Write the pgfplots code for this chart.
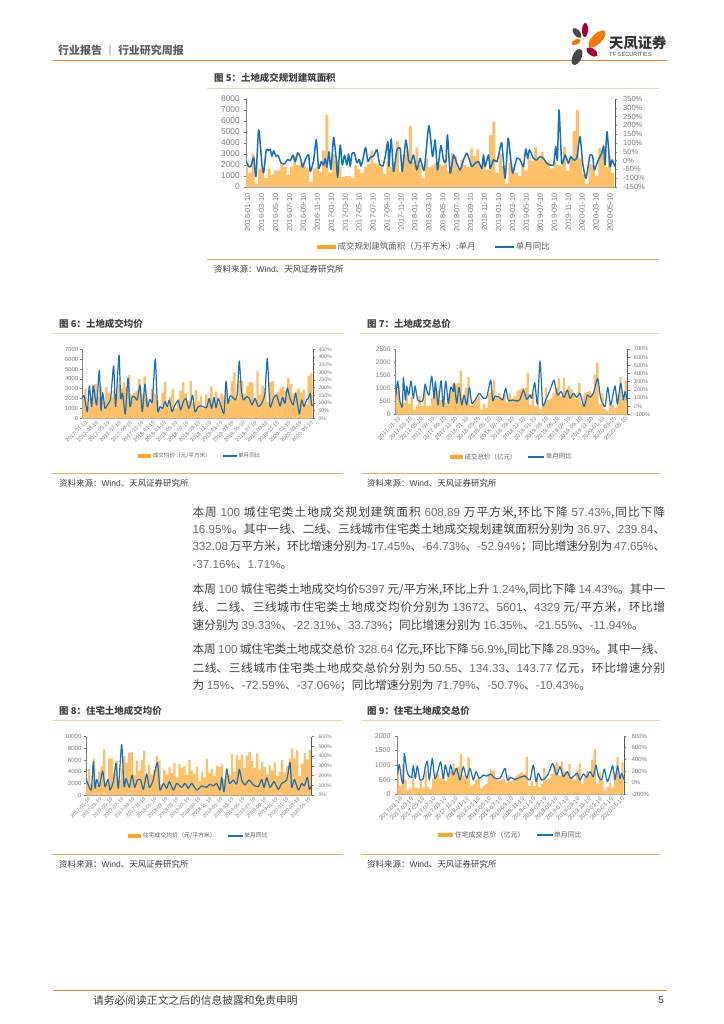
\documentclass[border=0pt]{standalone}
\usepackage{fontspec}
\usepackage{pgfplots}
\usepackage{pgfplotstable}
\pgfplotsset{compat=1.18}
\setmainfont{Noto Sans CJK SC}
\newfontfamily\lib{Liberation Sans}
\XeTeXlinebreaklocale "zh"
\XeTeXlinebreakskip=0pt plus 1.2pt minus 0.3pt

\definecolor{barcol}{HTML}{FFC06A}
\definecolor{keycol}{HTML}{FFA51F}
\definecolor{linecol}{HTML}{1470BC}
\definecolor{txt}{HTML}{404040}
\definecolor{numgray}{HTML}{6E6E6E}
\definecolor{tickgray}{HTML}{7A7A7A}
\definecolor{ruleA}{HTML}{FFCFA3}
\definecolor{ruleB}{HTML}{F8A25A}
\definecolor{headrule}{HTML}{F0882A}

\newcommand{\fsz}[1]{\fontsize{#1}{#1}\selectfont}
\newcommand{\g}[1]{{\color{numgray}\lib #1}}

% bar heights, left axis, about one bar in two of the original weekly series
\pgfplotstableread[row sep=\\,header=false]{
2100\\1300\\3000\\300\\1700\\1600\\800\\1700\\1100\\1500\\
1500\\2200\\1800\\1100\\1800\\2800\\2000\\2200\\1900\\1700\\
500\\1700\\1800\\1400\\3300\\6550\\1300\\3000\\2400\\1800\\
900\\1000\\1000\\800\\2000\\1600\\1300\\1800\\2100\\3300\\
2200\\2100\\1800\\1200\\2400\\1800\\2000\\4150\\1400\\2900\\
3400\\5550\\2300\\3600\\2000\\800\\2600\\1800\\2000\\2200\\
2100\\1900\\2500\\1500\\3100\\2800\\1700\\2500\\2000\\1800\\
3450\\2800\\3400\\1800\\2200\\1600\\4750\\5950\\1300\\3000\\
1900\\300\\2200\\1800\\1300\\1000\\2000\\1500\\2700\\2400\\
3600\\2600\\3200\\2300\\2300\\1700\\2400\\2000\\1900\\3650\\
1500\\2600\\5100\\7000\\2600\\1200\\300\\2100\\2000\\1000\\
3550\\3400\\1800\\2800\\1300\\
}\barsV
\pgfplotstableread[row sep=\\,header=false]{
2000\\3000\\1200\\2100\\3400\\3500\\2200\\3300\\1700\\3200\\
2600\\2100\\2800\\2400\\3500\\3000\\3700\\3200\\4400\\2400\\
2600\\2800\\4000\\2500\\4250\\2100\\1400\\3000\\2500\\1900\\
1000\\2600\\3700\\1300\\2200\\3000\\1000\\2000\\2800\\3700\\
2500\\1800\\3800\\1600\\2900\\1700\\2300\\1000\\2400\\2000\\
3200\\1800\\2700\\1600\\2500\\2200\\2900\\1900\\3800\\4650\\
2100\\3900\\3800\\2500\\3300\\3700\\3650\\1900\\4750\\2400\\
3300\\3100\\1700\\3650\\3800\\2300\\2700\\3000\\3200\\2800\\
4100\\3500\\2500\\2700\\3000\\2600\\2900\\1400\\4300\\4550\\
}\barsVI
\pgfplotstableread[row sep=\\,header=false]{
900\\1100\\300\\450\\1100\\400\\650\\180\\320\\700\\
330\\1000\\300\\320\\650\\950\\900\\550\\700\\450\\
800\\900\\1200\\1150\\1200\\1660\\600\\1000\\1430\\350\\
450\\600\\700\\200\\400\\250\\800\\900\\1300\\700\\
800\\650\\750\\500\\800\\600\\700\\900\\950\\1000\\
1000\\1590\\350\\800\\300\\500\\200\\400\\1020\\550\\
600\\800\\1000\\1390\\700\\1400\\900\\1100\\950\\800\\
600\\1200\\400\\800\\850\\900\\800\\1520\\1980\\400\\
800\\200\\130\\450\\350\\250\\750\\1430\\600\\1280\\
}\barsVII
\pgfplotstableread[row sep=\\,header=false]{
2100\\4500\\2000\\6300\\1800\\4000\\5000\\7800\\2000\\6300\\
6300\\3800\\5800\\2700\\4600\\6700\\5500\\7200\\7400\\3500\\
5900\\4200\\6000\\7600\\3200\\5200\\3500\\4300\\6700\\5900\\
1800\\4300\\3500\\4800\\3800\\5500\\3000\\5300\\4700\\5000\\
3400\\6000\\4200\\3600\\4800\\2400\\4000\\3000\\6200\\3800\\
4500\\3300\\5000\\4800\\5200\\2800\\4600\\3500\\7000\\4000\\
6800\\6000\\6900\\4600\\6700\\7400\\5800\\4600\\7100\\4300\\
5700\\4800\\3500\\5100\\4200\\5600\\3300\\4000\\6000\\3900\\
5000\\6300\\8000\\6300\\7700\\3300\\5400\\7200\\6100\\7700\\
}\barsVIII
\pgfplotstableread[row sep=\\,header=false]{
850\\300\\1050\\500\\150\\200\\650\\230\\200\\450\\
230\\800\\250\\180\\550\\750\\700\\550\\600\\450\\
720\\800\\1050\\900\\950\\1380\\650\\550\\1270\\300\\
350\\500\\600\\200\\300\\350\\700\\850\\800\\500\\
480\\500\\550\\400\\650\\450\\500\\650\\700\\750\\
700\\1290\\300\\450\\280\\600\\250\\350\\900\\500\\
550\\700\\1000\\1100\\650\\1130\\800\\750\\1040\\600\\
500\\800\\1050\\350\\600\\800\\650\\1180\\1560\\350\\
750\\450\\130\\250\\400\\230\\750\\1290\\600\\1100\\
}\barsIX

\pgfplotsset{
  labelsA/.style={xticklabels={2016-01-10,2016-03-10,2016-05-10,2016-07-10,2016-09-10,2016-11-10,
    2017-01-10,2017-03-10,2017-05-10,2017-07-10,2017-09-10,2017-11-10,
    2018-01-10,2018-03-10,2018-05-10,2018-07-10,2018-09-10,2018-11-10,
    2019-01-10,2019-03-10,2019-05-10,2019-07-10,2019-09-10,2019-11-10,
    2020-01-10,2020-03-10,2020-05-10}},
  labelsB/.style={xticklabels={2017-01-10,2017-03-10,2017-05-10,2017-07-10,2017-09-10,2017-11-10,
    2018-01-10,2018-03-10,2018-05-10,2018-07-10,2018-09-10,2018-11-10,
    2019-01-10,2019-03-10,2019-05-10,2019-07-10,2019-09-10,2019-11-10,
    2020-01-10,2020-03-10,2020-05-10}},
  common/.style={
    scale only axis, anchor=south west, clip=true, ymin=0,
    /pgf/number format/assume math mode=true,
    /pgf/number format/1000 sep={},
    scaled y ticks=false,
    tick align=outside, major tick length=2bp,
    tick style={draw=tickgray,line width=0.5bp},
  },
  baraxis/.style={common,
    axis y line*=left, axis x line*=bottom,
    y axis line style={draw=gray,line width=0.9bp},
    x axis line style={draw=gray!70,line width=0.6bp},
    x tick style={draw=none},
    ticklabel style={text=tickgray},
    ytick pos=left, xtick pos=bottom,
    xticklabel style={font=\lib\fsz{#1}},
    legend cell align=left,
  },
  lineaxis/.style={common,
    axis y line*=right, axis x line=none,
    y axis line style={draw=black!65,line width=0.9bp},
    ticklabel style={text=tickgray},
    ytick pos=right,
  },
  bars/.style={ybar,bar width=#1,fill=barcol,draw=none},
  serie/.style={color=linecol,line width=#1,smooth,tension=0.35,line join=round,no markers},
  barkey/.style={legend image code/.code={\fill[keycol] (0bp,-2bp) rectangle (#1,2bp);}},
  linekey/.style 2 args={legend image code/.code={\fill[linecol] (0bp,-#2) rectangle (#1,#2);}},
}

\begin{document}
\begin{tikzpicture}[x=1bp,y=-1bp,every node/.style={inner sep=0pt}]
\useasboundingbox (0,0) rectangle (724,1024);

% all rules first
\draw[headrule,line width=1bp] (53,60.5) -- (667,60.5);
\draw[ruleA,line width=1bp] (207,88) -- (659,88);
\draw[ruleB,line width=1bp] (207,259.5) -- (659,259.5);
\draw[ruleA,line width=1bp] (52,333.7) -- (343,333.7);
\draw[ruleB,line width=1bp] (52,473.7) -- (343,473.7);
\draw[ruleA,line width=1bp] (361,333.7) -- (660,333.7);
\draw[ruleB,line width=1bp] (361,473.7) -- (660,473.7);
\draw[ruleA,line width=1bp] (52,720.7) -- (343,720.7);
\draw[ruleB,line width=1bp] (52,854.3) -- (343,854.3);
\draw[ruleA,line width=1bp] (361,720.7) -- (660,720.7);
\draw[ruleB,line width=1bp] (361,854.3) -- (660,854.3);
\draw[headrule,line width=1bp] (53,990.5) -- (667,990.5);

% page head
\node[anchor=west,font=\bfseries\fsz{11},text=txt!85] at (58,50) {行业报告 ｜ 行业研究周报};
\fill[black!72,rotate around={40:(577,33)}] (577,33) ellipse (3bp and 6bp);
\fill[purple!85!black,rotate around={-3:(585,30)}] (585,30) ellipse (3bp and 7bp);
\fill[orange!95!black,rotate around={-45:(597,39)}] (597,39) ellipse (5bp and 11bp);
\fill[orange!95!black,rotate around={-65:(576,42)}] (576,42) ellipse (2.5bp and 5bp);
\fill[purple!85!black,rotate around={55:(592,52)}] (592,52) ellipse (3.5bp and 6.5bp);
\fill[black!72,rotate around={-25:(577,57)}] (577,57) ellipse (4.5bp and 8.5bp);
\node[anchor=west,font=\bfseries\fsz{14.4},text=black!80] at (609,43.5) {天凤证券};
\node[anchor=west,font=\lib\fsz{5.7},text=black!70] at (609,55) {TF SECURITIES};

% figure 5
\node[anchor=west,font=\bfseries\fsz{9.5},text=txt] at (214,78) {图 5：土地成交规划建筑面积};
\begin{axis}[baraxis=7.5,labelsA,at={(246bp,-187bp)},width=369bp,height=88bp,
  xmin=0,xmax=1108,ymin=0,ymax=8000,ytick={0,1000,...,8000},
  xtick={5,46.85,...,1100},
  xticklabel style={rotate=90,anchor=east,xshift=-4bp},
  yticklabel style={font=\lib\fsz{8.4},xshift=-4bp},
  legend style={at={(0.51,-0.68)},anchor=center,draw=none,fill=none,font=\fsz{8.5},text=txt!85,
    legend columns=2,/tikz/every even column/.append style={column sep=18bp}}]
\addplot[bars=3bp,barkey=19bp] table[x expr=\coordindex*9.64+2,y index=0] {\barsV};
\addlegendentry{成交规划建筑面积（万平方米）:单月}
\addlegendimage{linekey={18bp}{0.75bp}}
\addlegendentry{单月同比}
\end{axis}
\begin{axis}[lineaxis,at={(246bp,-187bp)},width=369bp,height=88bp,
  xmin=0,xmax=1108,ymin=-150,ymax=350,ytick={-150,-100,...,350},
  yticklabels={-150\%,-100\%,-50\%,0\%,50\%,100\%,150\%,200\%,250\%,300\%,350\%},
  yticklabel style={font=\lib\fsz{7.5},xshift=6bp}]
\addplot[serie=1.5bp] coordinates {
(0,0)(8,-34)(15,-31)(23,19)(30,-90)(38,175)(48,-25)(53,-69)(61,62)(68,56)(73,62)(78,25)(83,56)(90,25)(96,31)
(105,-12)(115,-19)(125,6)(133,0)(141,31)(148,-6)(155,44)(163,19)(170,-37)(178,6)(188,34)(193,-62)(203,0)
(211,119)(218,-44)(226,-6)(233,-25)(238,12)(243,-37)(249,50)(255,-50)(263,131)(271,6)(275,-94)(283,88)(289,-25)
(296,31)(303,-25)(308,38)(313,-31)(318,38)(325,44)(333,-12)(340,6)(345,-31)(351,6)(359,75)(366,-6)(373,19)
(383,25)(393,62)(401,-19)(411,-31)(418,23)(426,108)(429,-34)(436,123)(443,-62)(453,61)(463,70)(469,-62)
(480,117)(488,4)(495,-15)(503,32)(513,-53)(523,13)(535,-53)(549,199)(560,23)(568,117)(575,-53)(585,85)(593,4)
(600,-6)(605,146)(613,-72)(623,32)(633,-15)(643,-53)(653,4)(663,42)(671,4)(678,-34)(688,-15)(698,-6)(708,-44)
(713,32)(718,-34)(728,32)(733,-44)(743,4)(753,-6)(760,42)(768,102)(778,-100)(787,127)(795,4)(801,-72)(813,13)
(823,4)(833,-34)(840,66)(846,13)(851,61)(863,13)(873,4)(883,23)(893,13)(903,-15)(923,-25)(930,80)(935,4)
(940,288)(948,-15)(958,32)(968,-15)(975,23)(983,4)(993,13)(1003,136)(1011,-15)(1021,-100)(1033,32)(1041,23)
(1046,-53)(1058,4)(1068,42)(1074,83)(1078,-25)(1084,165)(1093,-34)(1099,4)(1108,-34)
};
\end{axis}
\node[anchor=west,font=\fsz{8.5},text=txt] at (214,269) {资料来源：{\lib Wind}、天风证券研究所};

% figure 6
\node[anchor=west,font=\bfseries\fsz{9.5},text=txt] at (59,324) {图 6：土地成交均价};
\begin{axis}[baraxis=5.4,labelsB,at={(82.3bp,-418.3bp)},width=231bp,height=69bp,
  xmin=0,xmax=693,ymin=0,ymax=7000,ytick={0,1000,...,7000},
  xtick={3,36.9,...,690},
  xticklabel style={rotate=45,anchor=north east,xshift=1bp,yshift=-1bp},
  yticklabel style={font=\lib\fsz{5.8},xshift=-2bp},
  legend style={at={(0.51,-0.546)},anchor=center,draw=none,fill=none,font=\fsz{5.6},text=txt!85,
    legend columns=2,/tikz/every even column/.append style={column sep=10bp}}]
\addplot[bars=2.4bp,barkey=13bp] table[x expr=\coordindex*7.7+2,y index=0] {\barsVI};
\addlegendentry{成交均价（元/平方米）}
\addlegendimage{linekey={13bp}{0.6bp}}
\addlegendentry{单月同比}
\end{axis}
\begin{axis}[lineaxis,at={(82.3bp,-418.3bp)},width=231bp,height=69bp,
  xmin=0,xmax=693,ymin=0,ymax=450,ytick={0,50,...,450},
  yticklabels={0\%,50\%,100\%,150\%,200\%,250\%,300\%,350\%,400\%,450\%},
  yticklabel style={font=\lib\fsz{5.2},xshift=3bp}]
\addplot[serie=1.2bp] coordinates {
(0,130)(6,146)(15,43)(21,211)(28,76)(33,211)(43,87)(51,315)(56,54)(61,167)(68,65)(75,87)(85,130)(94,341)(100,76)
(110,413)(115,130)(121,163)(129,28)(137,263)(143,76)(150,141)(158,137)(165,120)(173,217)(180,43)(188,224)
(195,76)(203,124)(210,109)(219,385)(226,50)(233,76)(241,65)(248,109)(255,76)(261,120)(269,43)(278,87)(288,115)
(295,54)(303,109)(311,130)(319,65)(325,98)(331,150)(338,43)(348,76)(358,80)(373,70)(381,130)(388,65)(395,137)
(401,70)(408,130)(415,87)(425,33)(431,241)(437,98)(443,146)(451,137)(459,120)(465,163)(471,374)(477,185)
(483,120)(493,141)(501,130)(509,87)(518,130)(528,76)(538,98)(548,163)(555,391)(563,76)(573,130)(583,152)
(593,80)(601,137)(608,98)(615,198)(623,130)(633,87)(640,163)(651,28)(658,120)(665,76)(673,120)(678,130)
(684,163)(688,87)(693,87)
};
\end{axis}
\node[anchor=west,font=\fsz{8.5},text=txt] at (59,483) {资料来源：{\lib Wind}、天风证券研究所};

% figure 7
\node[anchor=west,font=\bfseries\fsz{9.5},text=txt] at (367,324) {图 7：土地成交总价};
\begin{axis}[baraxis=5.8,labelsB,at={(395.7bp,-414.3bp)},width=232bp,height=65.3bp,
  xmin=0,xmax=696,ymin=0,ymax=2500,ytick={0,500,...,2500},
  xtick={3,37,...,690},
  xticklabel style={rotate=45,anchor=north east,xshift=1bp,yshift=-1bp},
  yticklabel style={font=\lib\fsz{6.6},xshift=-3bp},
  legend style={at={(0.5,-0.654)},anchor=center,draw=none,fill=none,font=\fsz{6.5},text=txt!85,
    legend columns=2,/tikz/every even column/.append style={column sep=10bp}}]
\addplot[bars=2.4bp,barkey=13bp] table[x expr=\coordindex*7.73+2,y index=0] {\barsVII};
\addlegendentry{成交总价（亿元）}
\addlegendimage{linekey={15bp}{0.6bp}}
\addlegendentry{单月同比}
\end{axis}
\begin{axis}[lineaxis,at={(395.7bp,-414.3bp)},width=232bp,height=65.3bp,
  xmin=0,xmax=696,ymin=-100,ymax=700,ytick={-100,0,...,700},
  yticklabels={-100\%,0\%,100\%,200\%,300\%,400\%,500\%,600\%,700\%},
  yticklabel style={font=\lib\fsz{5.6},xshift=4bp}]
\addplot[serie=1.2bp] coordinates {
(0,116)(6,308)(13,55)(20,-6)(23,353)(29,76)(33,239)(39,137)(46,308)(53,96)(58,247)(66,76)(78,55)(83,96)(88,271)
(93,198)(100,137)(108,369)(115,96)(119,300)(127,14)(136,312)(143,-6)(150,308)(158,35)(165,231)(173,178)(176,280)
(183,35)(190,231)(198,14)(205,137)(213,14)(221,231)(228,35)(238,76)(251,157)(263,96)(273,108)(285,320)(291,67)
(298,124)(311,108)(321,76)(330,218)(338,67)(351,76)(363,63)(373,84)(383,198)(393,84)(403,137)(408,96)(417,288)
(425,27)(433,553)(441,14)(451,84)(463,198)(475,320)(485,137)(496,178)(505,108)(515,198)(523,96)(533,157)(543,108)
(553,157)(565,-6)(575,137)(583,108)(593,157)(606,340)(615,96)(628,-6)(636,231)(645,14)(658,247)(665,27)(675,280)
(683,76)(688,178)(696,43)
};
\end{axis}
\node[anchor=west,font=\fsz{8.5},text=txt] at (367,483) {资料来源：{\lib Wind}、天风证券研究所};

% body text
\begin{scope}[every node/.append style={anchor=west,font=\fsz{11.7},text=txt}]
\node at (192.3,512.3) {\parbox{472.7bp}{\parfillskip=0pt\noindent 本周 \g{100} 城住宅类土地成交规划建筑面积 \g{608.89} 万平方米,环比下降 \g{57.43\%},同比下降}};
\node at (192.3,529) {\parbox{472.7bp}{\parfillskip=0pt\noindent \g{16.95\%}。其中一线、二线、三线城市住宅类土地成交规划建筑面积分别为 \g{36.97}、\g{239.84}、}};
\node at (192.3,546.3) {\parbox{472.7bp}{\parfillskip=0pt\noindent \g{332.08} 万平方米，环比增速分别为\g{-17.45\%}、\g{-64.73\%}、\g{-52.94\%}；同比增速分别为 \g{47.65\%}、}};
\node at (192.3,564.3) {\g{-37.16\%}、\g{1.71\%}。};
\node at (192.3,590) {\parbox{472.7bp}{\parfillskip=0pt\noindent 本周 \g{100} 城住宅类土地成交均价\g{5397} 元/平方米,环比上升 \g{1.24\%},同比下降 \g{14.43\%}。其中一}};
\node at (192.3,607.7) {\parbox{472.7bp}{\parfillskip=0pt\noindent 线、二线、三线城市住宅类土地成交均价分别为 \g{13672}、\g{5601}、\g{4329} 元/平方米，环比增}};
\node at (192.3,625.7) {速分别为 \g{39.33\%}、\g{-22.31\%}、\g{33.73\%}；同比增速分别为 \g{16.35\%}、\g{-21.55\%}、\g{-11.94\%}。};
\node at (192.3,649.3) {\parbox{472.7bp}{\parfillskip=0pt\noindent 本周 \g{100} 城住宅类土地成交总价 \g{328.64} 亿元,环比下降 \g{56.9\%},同比下降 \g{28.93\%}。其中一线、}};
\node at (192.3,667.7) {\parbox{472.7bp}{\parfillskip=0pt\noindent 二线、三线城市住宅类土地成交总价分别为 \g{50.55}、\g{134.33}、\g{143.77} 亿元，环比增速分别}};
\node at (192.3,685.7) {为 \g{15\%}、\g{-72.59\%}、\g{-37.06\%}；同比增速分别为 \g{71.79\%}、\g{-50.7\%}、\g{-10.43\%}。};
\end{scope}

% figure 8
\node[anchor=west,font=\bfseries\fsz{9.5},text=txt] at (59,711) {图 8：住宅土地成交均价};
\begin{axis}[baraxis=5.1,labelsB,at={(86bp,-795bp)},width=225.7bp,height=58.3bp,
  xmin=0,xmax=677,ymin=0,ymax=10000,ytick={0,2000,...,10000},
  xtick={3,36,...,670},
  xticklabel style={rotate=45,anchor=north east,xshift=1bp,yshift=-1bp},
  yticklabel style={font=\lib\fsz{6.1},xshift=-2.3bp},
  legend style={at={(0.5,-0.698)},anchor=center,draw=none,fill=none,font=\fsz{5.9},text=txt!85,
    legend columns=2,/tikz/every even column/.append style={column sep=10bp}}]
\addplot[bars=2.3bp,barkey=13bp] table[x expr=\coordindex*7.52+2,y index=0] {\barsVIII};
\addlegendentry{住宅成交均价（元/平方米）}
\addlegendimage{linekey={14bp}{0.6bp}}
\addlegendentry{单月同比}
\end{axis}
\begin{axis}[lineaxis,at={(86bp,-795bp)},width=225.7bp,height=58.3bp,
  xmin=0,xmax=677,ymin=0,ymax=600,ytick={0,100,...,600},
  yticklabels={0\%,100\%,200\%,300\%,400\%,500\%,600\%},
  yticklabel style={font=\lib\fsz{5.2},xshift=4.6bp}]
\addplot[serie=1.2bp] coordinates {
(0,182)(5,120)(16,51)(22,343)(27,69)(32,161)(40,86)(50,247)(57,86)(66,161)(72,51)(82,137)(90,326)(97,69)
(107,521)(114,86)(120,171)(130,79)(138,206)(146,79)(154,154)(164,154)(172,58)(182,216)(190,79)(200,137)(214,336)
(222,51)(232,120)(242,69)(250,137)(262,51)(272,120)(287,79)(297,120)(307,69)(317,120)(332,51)(347,93)(362,79)
(372,113)(382,93)(392,120)(402,51)(407,182)(414,34)(422,264)(430,120)(442,154)(452,113)(460,264)(467,154)
(477,103)(489,154)(502,103)(517,86)(527,161)(534,79)(542,178)(552,79)(564,137)(577,58)(587,120)(602,154)
(612,336)(617,79)(625,161)(637,51)(647,120)(655,93)(664,182)(670,58)(677,103)
};
\end{axis}
\node[anchor=west,font=\fsz{8.5},text=txt] at (59,864.7) {资料来源：{\lib Wind}、天风证券研究所};

% figure 9
\node[anchor=west,font=\bfseries\fsz{9.5},text=txt] at (367,711) {图 9：住宅土地成交总价};
\begin{axis}[baraxis=5.9,labelsB,at={(397.3bp,-794.3bp)},width=227bp,height=58.3bp,
  xmin=0,xmax=681,ymin=0,ymax=2000,ytick={0,500,...,2000},
  xtick={3,36.3,...,675},
  xticklabel style={rotate=45,anchor=north east,xshift=1bp,yshift=-1bp},
  yticklabel style={font=\lib\fsz{7},xshift=-4.6bp},
  legend style={at={(0.5,-0.698)},anchor=center,draw=none,fill=none,font=\fsz{7},text=txt!85,
    legend columns=2,/tikz/every even column/.append style={column sep=10bp}}]
\addplot[bars=2.3bp,barkey=15bp] table[x expr=\coordindex*7.57+2,y index=0] {\barsIX};
\addlegendentry{住宅成交总价（亿元）}
\addlegendimage{linekey={15bp}{0.6bp}}
\addlegendentry{单月同比}
\end{axis}
\begin{axis}[lineaxis,at={(397.3bp,-794.3bp)},width=227bp,height=58.3bp,
  xmin=0,xmax=681,ymin=-200,ymax=800,ytick={-200,0,...,800},
  yticklabels={-200\%,0\%,200\%,400\%,600\%,800\%},
  yticklabel style={font=\lib\fsz{6.1},xshift=5bp}]
\addplot[serie=1.2bp] coordinates {
(0,131)(6,314)(13,46)(18,0)(21,503)(28,229)(33,131)(43,91)(48,291)(54,74)(60,286)(68,46)(78,74)(83,246)(90,371)
(96,46)(105,417)(112,74)(120,160)(130,360)(138,74)(144,303)(153,103)(160,303)(168,131)(178,246)(188,46)(198,274)
(208,74)(218,246)(228,46)(236,189)(246,74)(258,131)(268,114)(280,149)(293,74)(308,74)(323,246)(330,46)(340,91)
(353,57)(368,91)(383,114)(398,46)(408,303)(416,17)(423,160)(433,46)(443,74)(453,149)(466,331)(478,131)(488,274)
(498,103)(510,189)(520,74)(533,131)(540,160)(548,46)(558,149)(568,91)(578,189)(588,103)(596,303)(603,114)(613,46)
(621,234)(630,17)(638,131)(646,291)(653,57)(661,286)(668,74)(673,160)(681,46)
};
\end{axis}
\node[anchor=west,font=\fsz{8.5},text=txt] at (367,864.7) {资料来源：{\lib Wind}、天风证券研究所};

% page foot
\node[anchor=west,font=\fsz{10.8},text=txt] at (93,1000.5) {请务必阅读正文之后的信息披露和免责申明};
\node[anchor=east,font=\lib\fsz{10},text=txt] at (664,1000.5) {5};
\end{tikzpicture}
\end{document}
